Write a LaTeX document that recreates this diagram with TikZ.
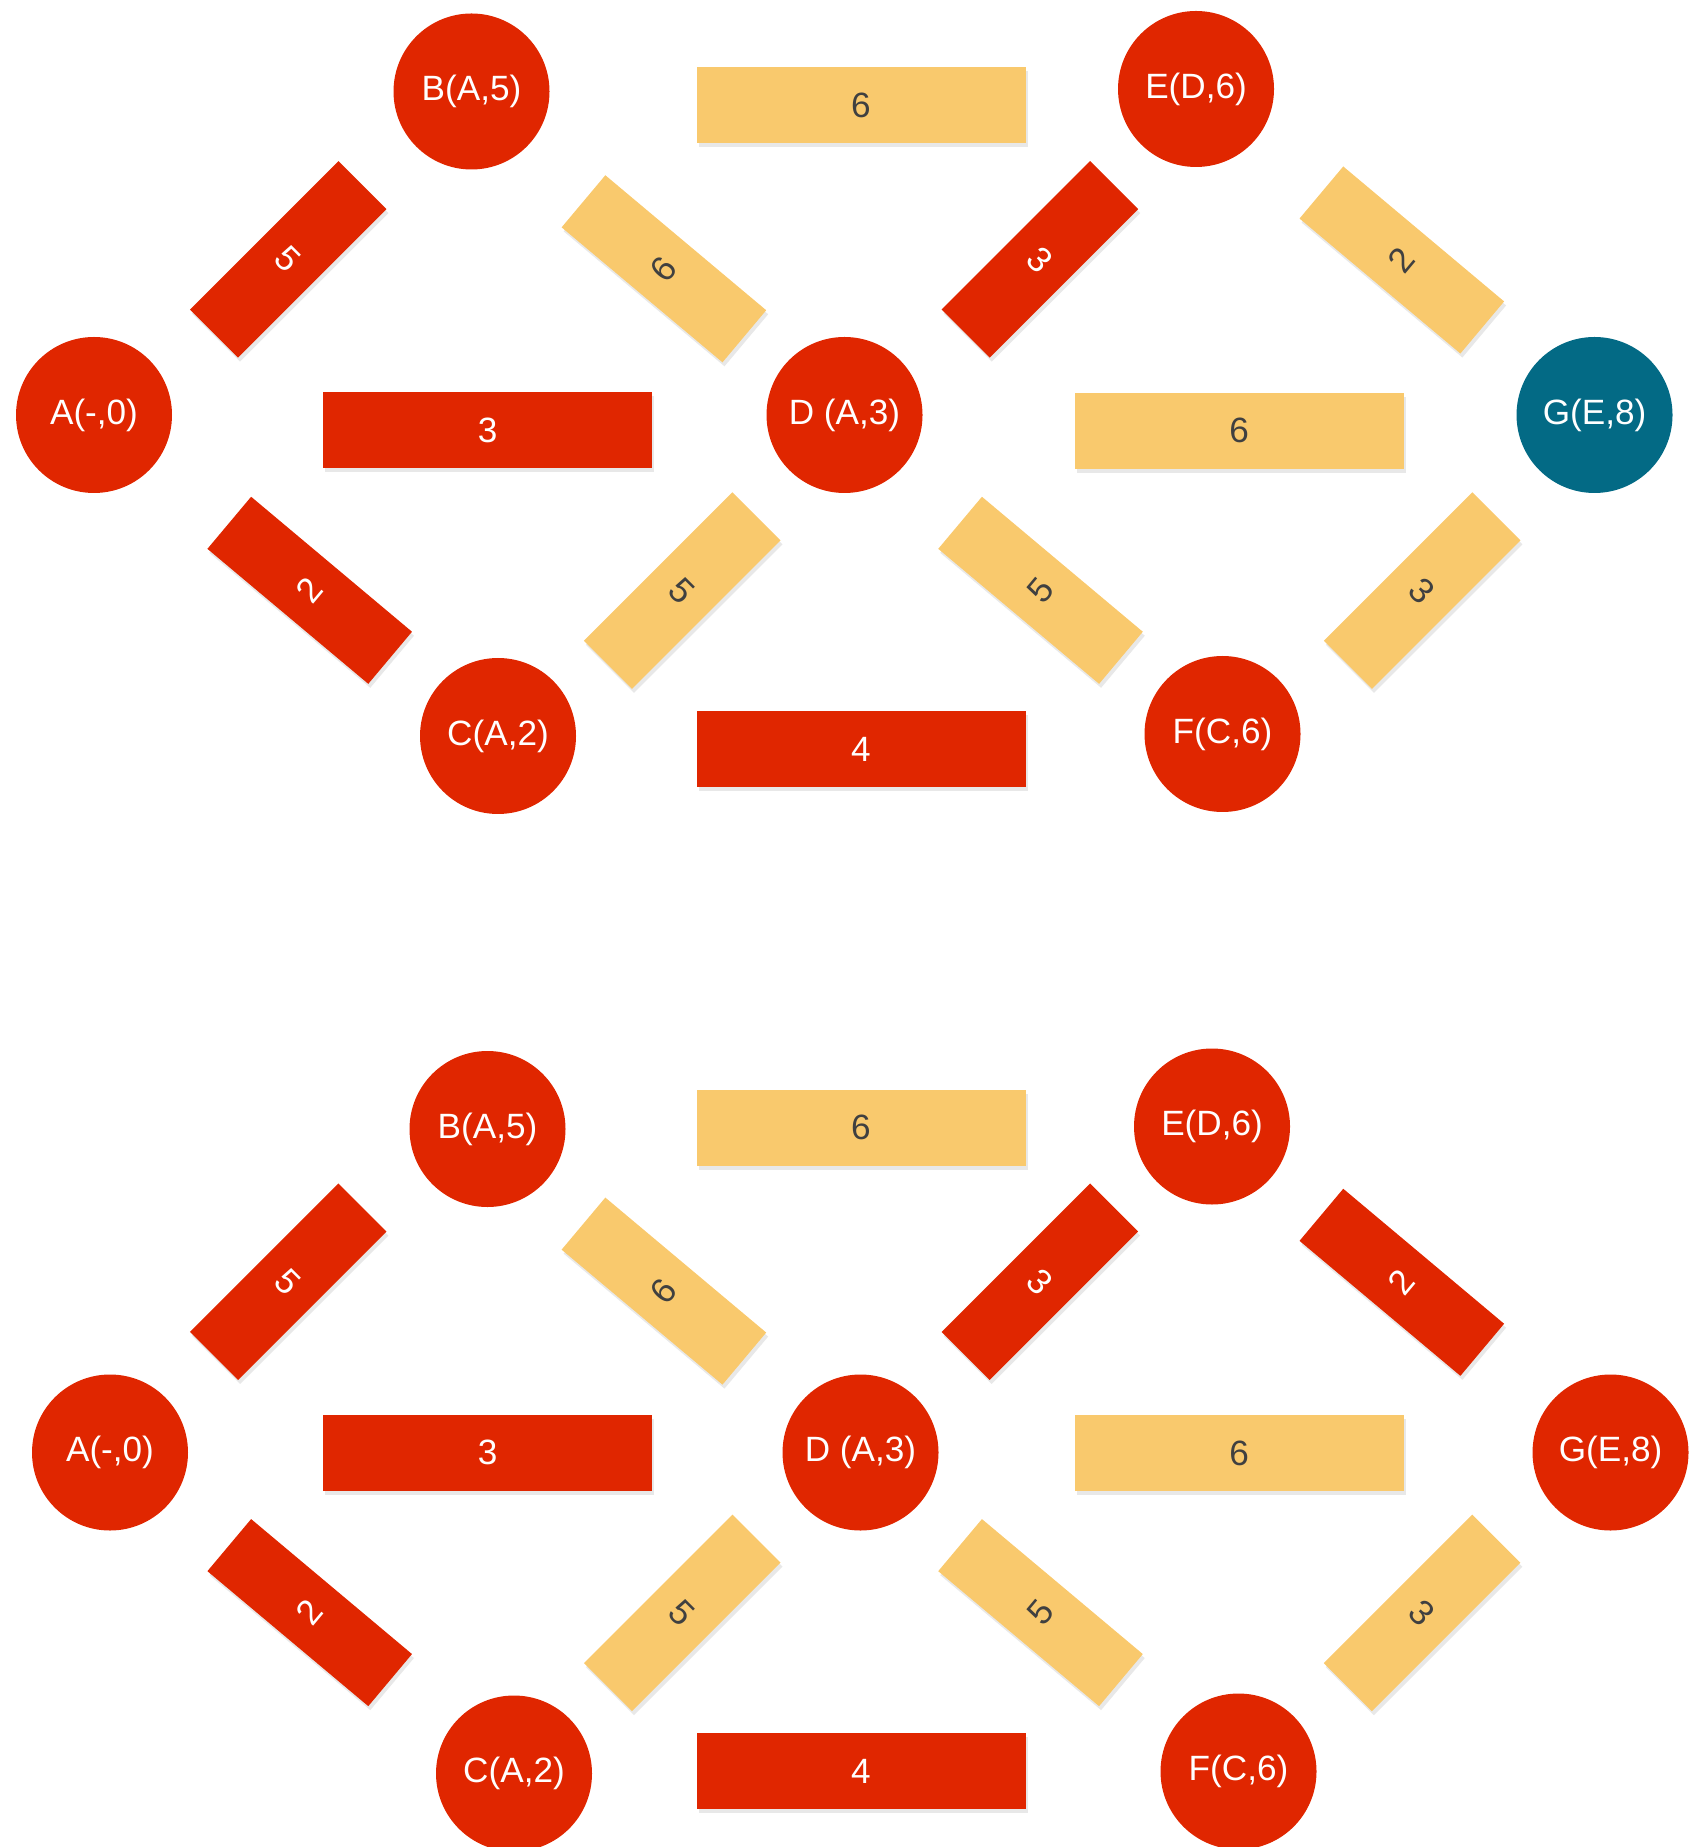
\documentclass[tikz,border=0pt]{standalone}
\usepackage{fontspec}
\setmainfont{Liberation Sans}
\usepackage{tikz}
\usetikzlibrary{shadows}
\definecolor{vred}{HTML}{E02600}
\definecolor{vgold}{HTML}{F9C96D}
\definecolor{vteal}{HTML}{036A85}
\definecolor{ink}{HTML}{404040}
\tikzset{
  vertex/.style={circle, fill=vred, minimum size=15.6mm, inner sep=0pt, text=white, font=\fontsize{10}{12}\selectfont},
  goal/.style={vertex, fill=vteal},
  bar/.style={rectangle, inner sep=0pt, font=\fontsize{10}{12}\selectfont,
    drop shadow={shadow xshift=0.2mm, shadow yshift=-0.4mm, opacity=0.18}},
  hbar/.style={bar, minimum width=32.9mm, minimum height=7.6mm},
  upbar/.style={bar, minimum width=6.8mm, minimum height=21mm, rotate=-45},
  dnbar/.style={bar, minimum width=6.8mm, minimum height=21mm, rotate=50},
  used/.style={fill=vred, text=white},
  free/.style={fill=vgold, text=ink},
}
\begin{document}
\begin{tikzpicture}[x=0.1mm, y=-0.1mm]
  \useasboundingbox (0,0) rectangle (1690,1847);
  % first run: G reached
  \node[hbar, free] (tBE) at (861,105.4) {6};
  \node[hbar, used] (tAD) at (487.6,430.5) {3};
  \node[hbar, free] (tDG) at (1239,430.8) {6};
  \node[hbar, used] (tCF) at (861,749) {4};
  \node[upbar, used] (tAB) at (288.2,259.4) {5};
  \node[dnbar, free] (tBD) at (663.9,268.8) {6};
  \node[upbar, used] (tDE) at (1039.9,259.4) {3};
  \node[dnbar, free] (tEG) at (1401.8,260) {2};
  \node[dnbar, used] (tAC) at (309.7,590.3) {2};
  \node[upbar, free] (tCD) at (682.2,590.6) {5};
  \node[dnbar, free] (tDF) at (1040.5,590.3) {5};
  \node[upbar, free] (tFG) at (1422.1,590.6) {3};
  \node[vertex] (tA) at (94,415) {A(-,0)};
  \node[vertex] (tB) at (471.5,91.5) {B(A,5)};
  \node[vertex] (tC) at (498,736) {C(A,2)};
  \node[vertex] (tD) at (844.5,415) {D (A,3)};
  \node[vertex] (tE) at (1196,89) {E(D,6)};
  \node[vertex] (tF) at (1222.5,734) {F(C,6)};
  \node[goal] (tG) at (1594.5,415) {G(E,8)};
  % second run: path to G marked
  \node[hbar, free] (bBE) at (861,1127.7) {6};
  \node[hbar, used] (bAD) at (487.6,1452.8) {3};
  \node[hbar, free] (bDG) at (1239,1453.1) {6};
  \node[hbar, used] (bCF) at (861,1771.3) {4};
  \node[upbar, used] (bAB) at (288.2,1281.7) {5};
  \node[dnbar, free] (bBD) at (663.9,1291.1) {6};
  \node[upbar, used] (bDE) at (1039.9,1281.7) {3};
  \node[dnbar, used] (bEG) at (1401.8,1282.3) {2};
  \node[dnbar, used] (bAC) at (309.7,1612.6) {2};
  \node[upbar, free] (bCD) at (682.2,1612.9) {5};
  \node[dnbar, free] (bDF) at (1040.5,1612.6) {5};
  \node[upbar, free] (bFG) at (1422.1,1612.9) {3};
  \node[vertex] (bA) at (110,1452.5) {A(-,0)};
  \node[vertex] (bB) at (487.5,1129) {B(A,5)};
  \node[vertex] (bC) at (514,1773.5) {C(A,2)};
  \node[vertex] (bD) at (860.5,1452.5) {D (A,3)};
  \node[vertex] (bE) at (1212,1126.5) {E(D,6)};
  \node[vertex] (bF) at (1238.5,1771.5) {F(C,6)};
  \node[vertex] (bG) at (1610.5,1452.5) {G(E,8)};
\end{tikzpicture}
\end{document}
